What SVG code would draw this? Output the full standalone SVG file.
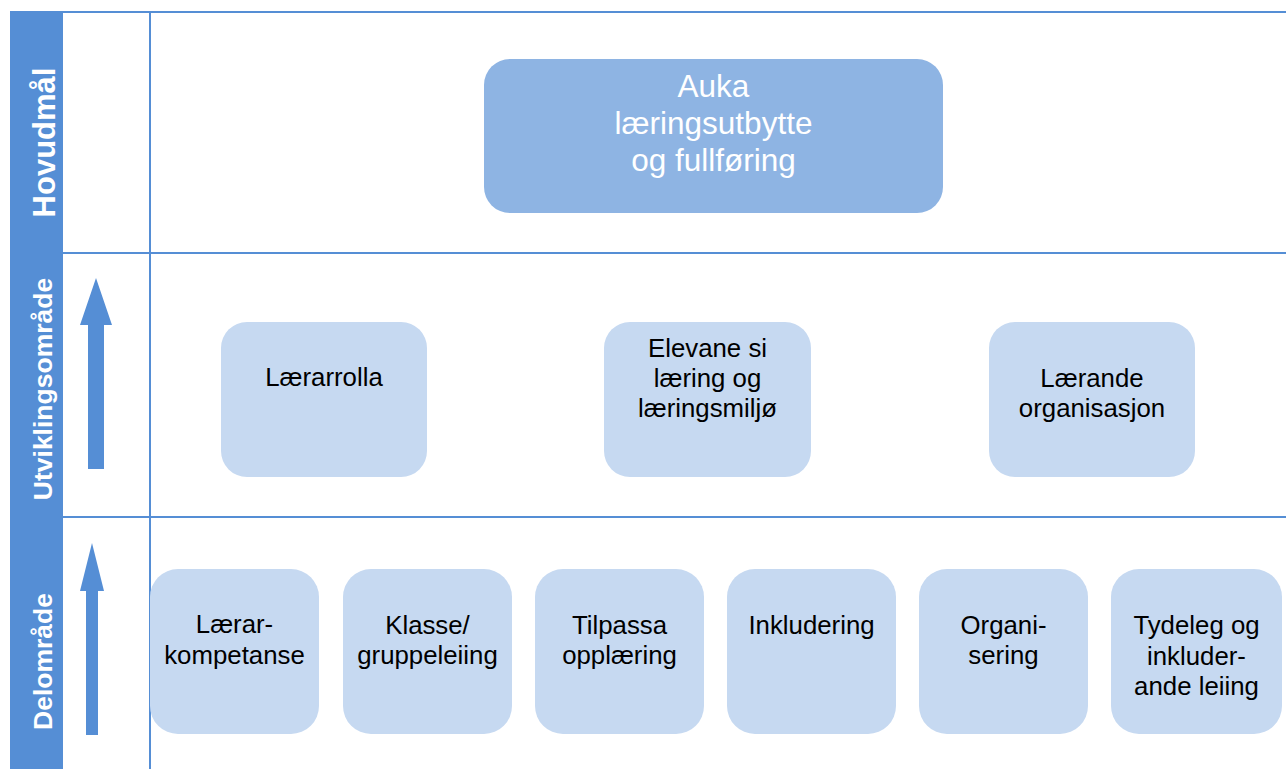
<svg xmlns="http://www.w3.org/2000/svg" width="1286" height="769" viewBox="0 0 1286 769">
<style>
.grid{stroke:#558ed5;stroke-width:2;fill:none}
.band{fill:#558ed5}
.bl{font-family:"Liberation Sans",Arial,sans-serif;font-weight:bold;fill:#ffffff;text-anchor:middle}
.main{fill:#8eb4e3}
.sub{fill:#c6d9f1}
.mt{font-family:"Liberation Sans",Arial,sans-serif;font-size:31.5px;fill:#ffffff;text-anchor:middle}
.st{font-family:"Liberation Sans",Arial,sans-serif;font-size:25.8px;fill:#000000;text-anchor:middle}
.arr{fill:#558ed5}
</style>
<rect width="1286" height="769" fill="#ffffff"/>
<g id="band">
<rect class="band" x="10" y="11" width="53" height="758"/>
</g>
<g id="grid">
<line class="grid" x1="63" y1="12" x2="1286" y2="12"/>
<line class="grid" x1="63" y1="253" x2="1286" y2="253"/>
<line class="grid" x1="63" y1="517" x2="1286" y2="517"/>
<line class="grid" x1="150" y1="12" x2="150" y2="769"/>
</g>
<g id="label-hovudmal"><text class="bl" font-size="31" transform="translate(55,142.5) rotate(-90)">Hovudmål</text></g>
<g id="label-utvikling"><text class="bl" font-size="26.5" transform="translate(52,389) rotate(-90)">Utviklingsområde</text></g>
<g id="label-delomrade"><text class="bl" font-size="26.5" transform="translate(52,661.5) rotate(-90)">Delområde</text></g>
<g id="connectors">
<polygon class="arr" points="96,278 112,325 104,325 104,469 88,469 88,325 80,325"/>
<polygon class="arr" points="92,543 104,591 98,591 98,735 86,735 86,591 80,591"/>
</g>
<g id="node-auka">
<rect class="main" x="484" y="59" width="459" height="154" rx="26"/>
<text class="mt" x="713.5" y="97">Auka</text>
<text class="mt" x="713.5" y="134">læringsutbytte</text>
<text class="mt" x="713.5" y="171">og fullføring</text>
</g>
<g id="node-lærarrolla">
<rect class="sub" x="221" y="322" width="206" height="155" rx="26"/>
<text class="st" x="324" y="386">Lærarrolla</text>
</g>
<g id="node-elevane">
<rect class="sub" x="604" y="322" width="207" height="155" rx="26"/>
<text class="st" x="707.5" y="357">Elevane si</text>
<text class="st" x="707.5" y="387">læring og</text>
<text class="st" x="707.5" y="417">læringsmiljø</text>
</g>
<g id="node-larande">
<rect class="sub" x="989" y="322" width="206" height="155" rx="26"/>
<text class="st" x="1092" y="387">Lærande</text>
<text class="st" x="1092" y="417">organisasjon</text>
</g>
<g id="node-lararkompetanse">
<rect class="sub" x="150" y="569" width="169" height="165" rx="28"/>
<text class="st" x="234.5" y="633">Lærar-</text>
<text class="st" x="234.5" y="664">kompetanse</text>
</g>
<g id="node-klasse">
<rect class="sub" x="343" y="569" width="169" height="165" rx="28"/>
<text class="st" x="427.5" y="634">Klasse/</text>
<text class="st" x="427.5" y="664">gruppeleiing</text>
</g>
<g id="node-tilpassa">
<rect class="sub" x="535" y="569" width="169" height="165" rx="28"/>
<text class="st" x="619.5" y="634">Tilpassa</text>
<text class="st" x="619.5" y="664">opplæring</text>
</g>
<g id="node-inkludering">
<rect class="sub" x="727" y="569" width="169" height="165" rx="28"/>
<text class="st" x="811.5" y="634">Inkludering</text>
</g>
<g id="node-organisering">
<rect class="sub" x="919" y="569" width="169" height="165" rx="28"/>
<text class="st" x="1003.5" y="634">Organi-</text>
<text class="st" x="1003.5" y="664">sering</text>
</g>
<g id="node-tydeleg">
<rect class="sub" x="1111" y="569" width="171" height="165" rx="28"/>
<text class="st" x="1196.5" y="634">Tydeleg og</text>
<text class="st" x="1196.5" y="665">inkluder-</text>
<text class="st" x="1196.5" y="695">ande leiing</text>
</g>
</svg>
